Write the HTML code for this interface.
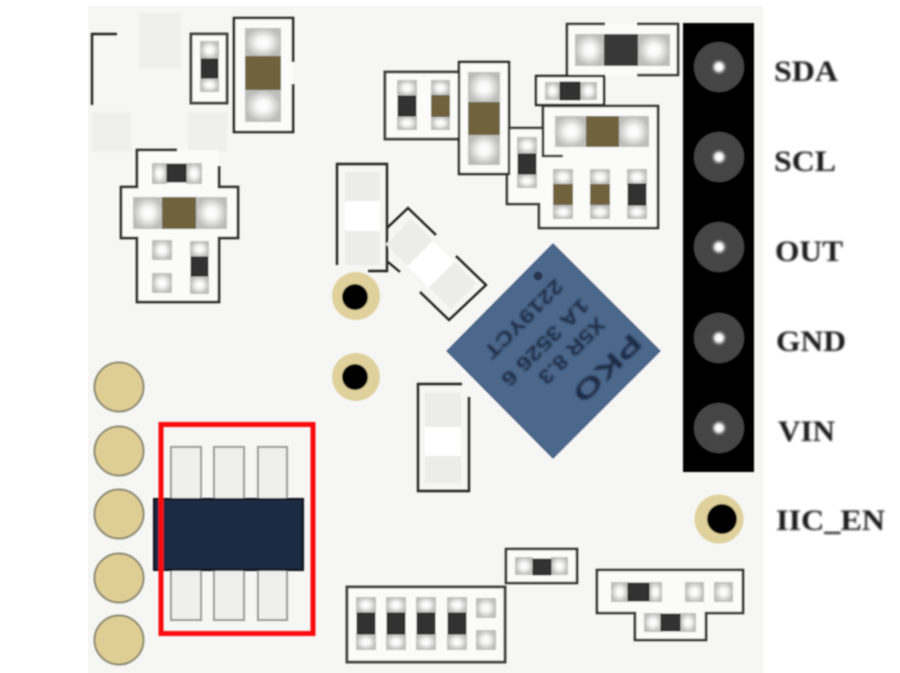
<!DOCTYPE html>
<html><head><meta charset="utf-8"><style>
html,body{margin:0;padding:0;background:#fff;width:900px;height:673px;overflow:hidden}
svg{display:block}
</style></head><body>
<svg width="900" height="673" viewBox="0 0 900 673" xmlns="http://www.w3.org/2000/svg">
<defs>
<radialGradient id="g"><stop offset="0" stop-color="#fff"/><stop offset=".35" stop-color="#f8f8f8"/><stop offset="1" stop-color="#bdbdbb"/></radialGradient>
<filter id="b" x="-5%" y="-5%" width="110%" height="110%"><feGaussianBlur stdDeviation="0.9"/></filter>
<filter id="c" x="-20%" y="-20%" width="140%" height="140%"><feGaussianBlur stdDeviation="1"/></filter>
<filter id="d" x="-50%" y="-50%" width="200%" height="200%"><feGaussianBlur stdDeviation="1.6"/></filter>
</defs>
<rect x="88" y="6" width="675" height="667" fill="#f6f6f5"/>
<g filter="url(#b)">
<!-- faint squares -->
<g fill="#efefee">
<rect x="139" y="13" width="42" height="55"/>
<rect x="92" y="112" width="39" height="40"/>
<rect x="188" y="112" width="39" height="40"/>
</g>
<!-- interiors -->
<g fill="#fbfbfa">
<rect x="191" y="34" width="36" height="69"/>
<rect x="234" y="18" width="59" height="114"/>
<path d="M137 150H219V187H238V238H219V302H137V238H121V187H137Z"/>
<rect x="566" y="24" width="112" height="52"/>
<rect x="536" y="76" width="68" height="29"/>
<rect x="385" y="72" width="74" height="67"/>
<rect x="459" y="62" width="50" height="112"/>
<path d="M509 128H543V106H658V228H539V204H507V174H509Z"/>
<rect x="347" y="586" width="158" height="76"/>
<rect x="506" y="549" width="71" height="34"/>
<path d="M597 570H743V613H706V640H635V613H597Z"/>
</g>
<!-- outlines -->
<g fill="none" stroke="#222" stroke-width="2.4">
<path d="M92 105V34H117"/>
<path d="M191 34H227V103H191Z" stroke="#444" stroke-width="3"/>
<path d="M293 62V18H234V132H293V84" stroke-width="2.6"/>
<path d="M177 150H137V187H121V238H137V302H219V238H238V187H219V166" stroke="#333" stroke-width="2.8"/>
<path d="M567 75V24H605M637 24H678V75H637" stroke="#333" stroke-width="2.6"/>
<path d="M536 76H604V105H536Z"/>
<path d="M459 72H385V139H459" stroke="#444" stroke-width="3"/>
<path d="M459 62H509V174H459Z"/>
<path d="M509 128H543M543 106H658V228H539V204H507V174M543 106V156H563" stroke="#333" stroke-width="2.6"/>
<path d="M337 265V164H387V271H368"/>
<path d="M462 384H418V491H469V397"/>
<path d="M387 228L408 208L436 235M456 256L486 285L449 320L420 292M388 262L400 272"/>
<path d="M347 587H505V662H347Z" stroke="#444" stroke-width="3"/>
<path d="M506 549H577V583H506Z" stroke="#333" stroke-width="2.6"/>
<path d="M597 570H743V613H706V640H635V613H597Z" stroke="#333" stroke-width="2.6"/>
</g>
<!-- pad sets -->
<g>
<rect x="200" y="41" width="19" height="18" fill="url(#g)"/><rect x="200" y="78" width="19" height="14" fill="url(#g)"/><rect x="201" y="59" width="17" height="19" fill="#333" stroke="#111"/>
<rect x="245" y="28" width="36" height="29" fill="url(#g)"/><rect x="245" y="90" width="36" height="32" fill="url(#g)"/><rect x="245" y="56" width="36" height="34" fill="#6f623c"/>
<rect x="152" y="163" width="15" height="21" fill="url(#g)"/><rect x="186" y="163" width="16" height="21" fill="url(#g)"/><rect x="167" y="164" width="19" height="18" fill="#333" stroke="#111"/>
<rect x="133" y="197" width="30" height="32" fill="url(#g)"/><rect x="196" y="197" width="31" height="32" fill="url(#g)"/><rect x="162" y="197" width="34" height="32" fill="#6f623c"/>
<rect x="152" y="240" width="20" height="20" fill="url(#g)"/><rect x="152" y="273" width="20" height="20" fill="url(#g)"/>
<rect x="190" y="241" width="19" height="16" fill="url(#g)"/><rect x="190" y="276" width="19" height="18" fill="url(#g)"/><rect x="191" y="257" width="17" height="19" fill="#333" stroke="#111"/>
<rect x="575" y="34" width="29" height="32" fill="url(#g)"/><rect x="638" y="34" width="32" height="32" fill="url(#g)"/><rect x="604" y="34" width="34" height="32" fill="#383838"/>
<rect x="545" y="82" width="15" height="18" fill="url(#g)"/><rect x="580" y="82" width="17" height="18" fill="url(#g)"/><rect x="560" y="82" width="20" height="18" fill="#333" stroke="#111"/>
<rect x="397" y="80" width="20" height="16" fill="url(#g)"/><rect x="397" y="116" width="20" height="14" fill="url(#g)"/><rect x="398" y="96" width="18" height="20" fill="#333" stroke="#111"/>
<rect x="431" y="80" width="19" height="16" fill="url(#g)"/><rect x="431" y="116" width="19" height="14" fill="url(#g)"/><rect x="431" y="95" width="19" height="22" fill="#6f623c"/>
<rect x="468" y="72" width="32" height="31" fill="url(#g)"/><rect x="468" y="134" width="32" height="31" fill="url(#g)"/><rect x="468" y="102" width="32" height="33" fill="#6f623c"/>
<rect x="555" y="116" width="32" height="31" fill="url(#g)"/><rect x="618" y="116" width="31" height="31" fill="url(#g)"/><rect x="586" y="116" width="33" height="31" fill="#6f623c"/>
<rect x="517" y="137" width="20" height="17" fill="url(#g)"/><rect x="517" y="174" width="20" height="14" fill="url(#g)"/><rect x="518" y="154" width="18" height="20" fill="#333" stroke="#111"/>
<rect x="553" y="169" width="20" height="16" fill="url(#g)"/><rect x="553" y="205" width="20" height="14" fill="url(#g)"/><rect x="553" y="184" width="20" height="21" fill="#6f623c"/>
<rect x="590" y="169" width="20" height="16" fill="url(#g)"/><rect x="590" y="205" width="20" height="14" fill="url(#g)"/><rect x="590" y="184" width="20" height="21" fill="#6f623c"/>
<rect x="627" y="169" width="20" height="16" fill="url(#g)"/><rect x="627" y="205" width="20" height="14" fill="url(#g)"/><rect x="628" y="184" width="18" height="21" fill="#333" stroke="#111"/>
<!-- bottom group -->
<rect x="356" y="597" width="20" height="16" fill="url(#g)"/><rect x="356" y="634" width="20" height="16" fill="url(#g)"/><rect x="357" y="613" width="18" height="21" fill="#333" stroke="#111"/>
<rect x="386" y="597" width="20" height="16" fill="url(#g)"/><rect x="386" y="634" width="20" height="16" fill="url(#g)"/><rect x="387" y="613" width="18" height="21" fill="#333" stroke="#111"/>
<rect x="416" y="597" width="20" height="16" fill="url(#g)"/><rect x="416" y="634" width="20" height="16" fill="url(#g)"/><rect x="417" y="613" width="18" height="21" fill="#333" stroke="#111"/>
<rect x="447" y="597" width="20" height="16" fill="url(#g)"/><rect x="447" y="634" width="20" height="16" fill="url(#g)"/><rect x="448" y="613" width="18" height="21" fill="#333" stroke="#111"/>
<rect x="476" y="598" width="20" height="20" fill="url(#g)"/><rect x="476" y="630" width="20" height="20" fill="url(#g)"/>
<rect x="515" y="557" width="18" height="18" fill="url(#g)"/><rect x="551" y="557" width="17" height="18" fill="url(#g)"/><rect x="533" y="559" width="18" height="16" fill="#333" stroke="#111"/>
<rect x="611" y="582" width="17" height="20" fill="url(#g)"/><rect x="649" y="582" width="13" height="20" fill="url(#g)"/><rect x="628" y="583" width="21" height="18" fill="#333" stroke="#111"/>
<rect x="685" y="582" width="19" height="20" fill="url(#g)"/><rect x="714" y="582" width="19" height="20" fill="url(#g)"/>
<rect x="644" y="613" width="18" height="19" fill="url(#g)"/><rect x="680" y="613" width="16" height="19" fill="url(#g)"/><rect x="661" y="614" width="19" height="17" fill="#333" stroke="#111"/>
</g>
<!-- light resistors -->
<rect x="345" y="172" width="35" height="93" fill="#ececeb"/><rect x="345" y="201" width="35" height="30" fill="#fff"/>
<rect x="425" y="393" width="36" height="90" fill="#ececeb"/><rect x="425" y="427" width="36" height="29" fill="#fff"/>
<g transform="rotate(45 431 264)">
<rect x="385" y="246" width="92" height="36" fill="#ececeb"/><rect x="416" y="246" width="30" height="36" fill="#fff"/>
</g>
<!-- IC -->
<polygon points="553,244 660,351 553,458 447,351" fill="#4c688c" stroke="#43597a" stroke-width="1"/>
<g fill="#1f2c44" font-family="'Liberation Sans',sans-serif" font-weight="bold" filter="url(#c)">
<text transform="translate(631,332) rotate(135)" font-size="26" textLength="85" lengthAdjust="spacingAndGlyphs">PKO</text>
<text transform="translate(597,316) rotate(135)" font-size="20" textLength="85" lengthAdjust="spacingAndGlyphs">X5R 8.3</text>
<text transform="translate(581,297) rotate(135)" font-size="20" textLength="115" lengthAdjust="spacingAndGlyphs">1A 3526 6</text>
<text transform="translate(555,278) rotate(135)" font-size="20" textLength="102" lengthAdjust="spacingAndGlyphs">2219YCT</text>
</g>
<circle cx="538" cy="276" r="4.500" fill="#27364f"/>
<!-- gold holes -->
<g fill="#e0d19c">
<circle cx="356" cy="296" r="24"/><circle cx="356" cy="377" r="24"/><circle cx="719" cy="519" r="24.5"/>
</g>
<g fill="#050505">
<circle cx="355" cy="297" r="13"/><circle cx="355" cy="377" r="13"/><circle cx="722" cy="519" r="15"/>
</g>
<!-- left pads -->
<g fill="#dfce94" stroke="#8c8a72" stroke-width="2">
<circle cx="119" cy="387" r="24.5"/><circle cx="119" cy="451" r="24.5"/><circle cx="119" cy="514" r="24.5"/><circle cx="119" cy="578" r="24.5"/><circle cx="119" cy="640" r="24.5"/>
</g>
<!-- chip with pins -->
<g fill="#efefee" stroke="#9a9a9a" stroke-width="2">
<rect x="171" y="447" width="30" height="173"/><rect x="214" y="447" width="30" height="173"/><rect x="258" y="447" width="29" height="173"/>
</g>
<rect x="154" y="499" width="149" height="71" fill="#1c2b42" stroke="#0b0f18" stroke-width="2"/>
<rect x="161" y="424.500" width="152" height="209" fill="none" stroke="#fb0a0a" stroke-width="5"/>
<!-- header -->
<rect x="683" y="23" width="71" height="449" fill="#000"/>
<g fill="#444">
<circle cx="719" cy="67" r="25"/><circle cx="719" cy="157" r="25"/><circle cx="719" cy="247" r="25"/><circle cx="719" cy="338" r="25"/><circle cx="719" cy="428" r="25"/>
</g>
</g>
<g fill="#fff" filter="url(#d)">
<circle cx="719" cy="67" r="5.500"/><circle cx="719" cy="157" r="5.500"/><circle cx="719" cy="247" r="5.500"/><circle cx="719" cy="338" r="5.500"/><circle cx="719" cy="428" r="5.500"/>
</g>
<g filter="url(#c)" font-family="'Liberation Serif',serif" font-weight="bold" font-size="30" fill="#1c1c1c">
<text x="774" y="81" textLength="64" lengthAdjust="spacingAndGlyphs">SDA</text>
<text x="774" y="171" textLength="62" lengthAdjust="spacingAndGlyphs">SCL</text>
<text x="775" y="261" textLength="68" lengthAdjust="spacingAndGlyphs">OUT</text>
<text x="776" y="351" textLength="70" lengthAdjust="spacingAndGlyphs">GND</text>
<text x="778" y="441" textLength="57" lengthAdjust="spacingAndGlyphs">VIN</text>
<text x="776" y="530" textLength="109" lengthAdjust="spacingAndGlyphs">IIC_EN</text>
</g>
</svg>
</body></html>
